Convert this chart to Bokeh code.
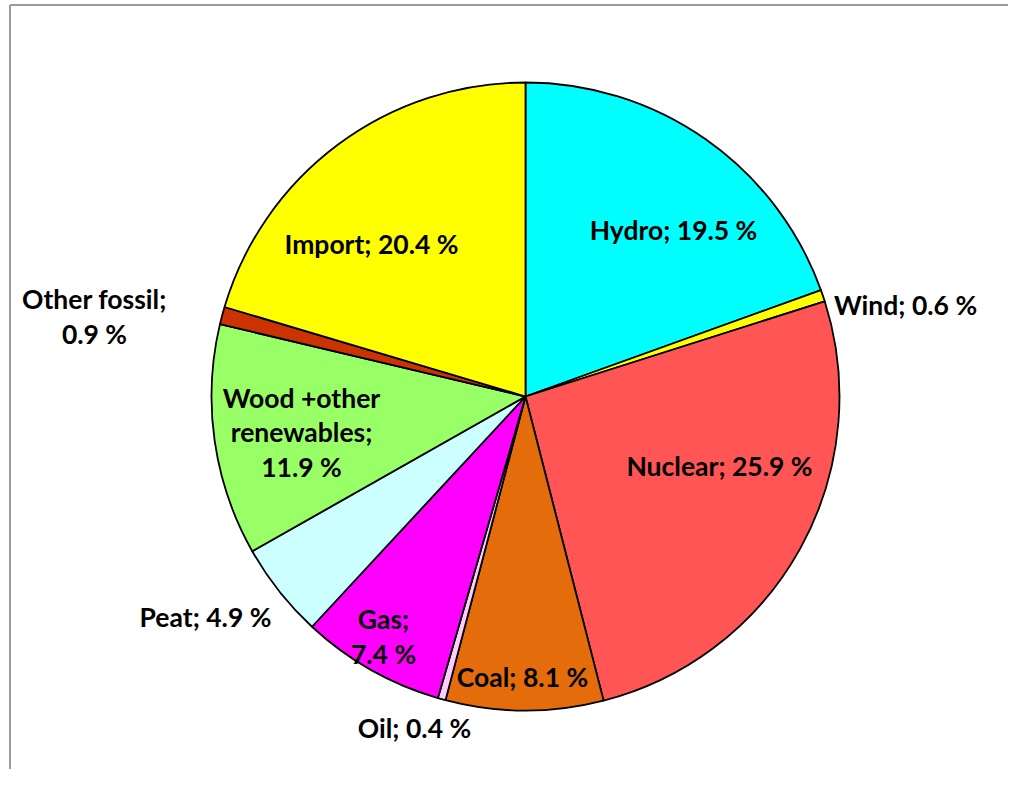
import math
from bokeh.plotting import figure
from bokeh.models import Range1d, ColumnDataSource
from bokeh.core.properties import value
from bokeh.embed import file_html
from bokeh.resources import INLINE

# ---- data ----
categories = ["Hydro", "Wind", "Nuclear", "Coal", "Oil", "Gas", "Peat",
              "Wood +other renewables", "Other fossil", "Import"]
shares = [19.5, 0.6, 25.9, 8.1, 0.4, 7.4, 4.9, 11.9, 0.9, 20.4]
label_texts = ["Hydro; 19.5 %", "Wind; 0.6 %", "Nuclear; 25.9 %", "Coal; 8.1 %",
               "Oil; 0.4 %", "Gas;\n7.4 %", "Peat; 4.9 %",
               "Wood +other\nrenewables;\n11.9 %", "Other fossil;\n0.9 %",
               "Import; 20.4 %"]
colors = ["#00FFFF", "#FFFF00", "#FF5555", "#E46C0A", "#FFCCFF", "#FF00FF",
          "#CCFFFF", "#99FF66", "#CC3300", "#FFFF00"]

# ---- layout (pixel coordinates in the picture) ----
W, H = 1008, 769
CX, CY, R = 525, 396, 314
label_pos = [(673, 229), (905, 304), (719, 465), (522, 676), (414, 727),
             (383, 636), (205, 616), (301, 432), (94, 316), (371, 243)]

p = figure(width=W, height=H, output_backend="svg", toolbar_location=None,
           x_range=Range1d(0, W), y_range=Range1d(0, H), min_border=0)
p.axis.visible = False
p.grid.visible = False
p.outline_line_color = None
p.background_fill_color = "white"
p.border_fill_color = "white"


def dy(y):
    return H - y


total = sum(shares)
starts, ends = [], []
cum = 0.0
for s in shares:
    starts.append(math.pi / 2 - 2 * math.pi * cum / total)
    cum += s
    ends.append(math.pi / 2 - 2 * math.pi * cum / total)

src = ColumnDataSource(dict(cat=categories, share=shares, start=starts,
                            end=ends, color=colors))
p.wedge(x=CX, y=dy(CY), radius=R, radius_units="screen",
        start_angle="start", end_angle="end", direction="clock",
        fill_color="color", line_color="black", line_width=1.8, source=src)

lsrc = ColumnDataSource(dict(x=[lp[0] for lp in label_pos],
                             y=[dy(lp[1]) for lp in label_pos],
                             t=label_texts))
p.text(x="x", y="y", text="t", source=lsrc, text_font=value("Lato"),
       text_font_style="bold", text_font_size="26.5px", text_align="center",
       text_baseline="middle", text_line_height=1.07, text_color="black")

# frame (top and left edges visible)
p.segment(x0=[9.5, 9.5], y0=[dy(4.5), dy(4.5)], x1=[W, 9.5], y1=[dy(4.5), 0],
          line_color="#9a9a9a", line_width=2)

open("out.html", "w").write(file_html(p, INLINE))
